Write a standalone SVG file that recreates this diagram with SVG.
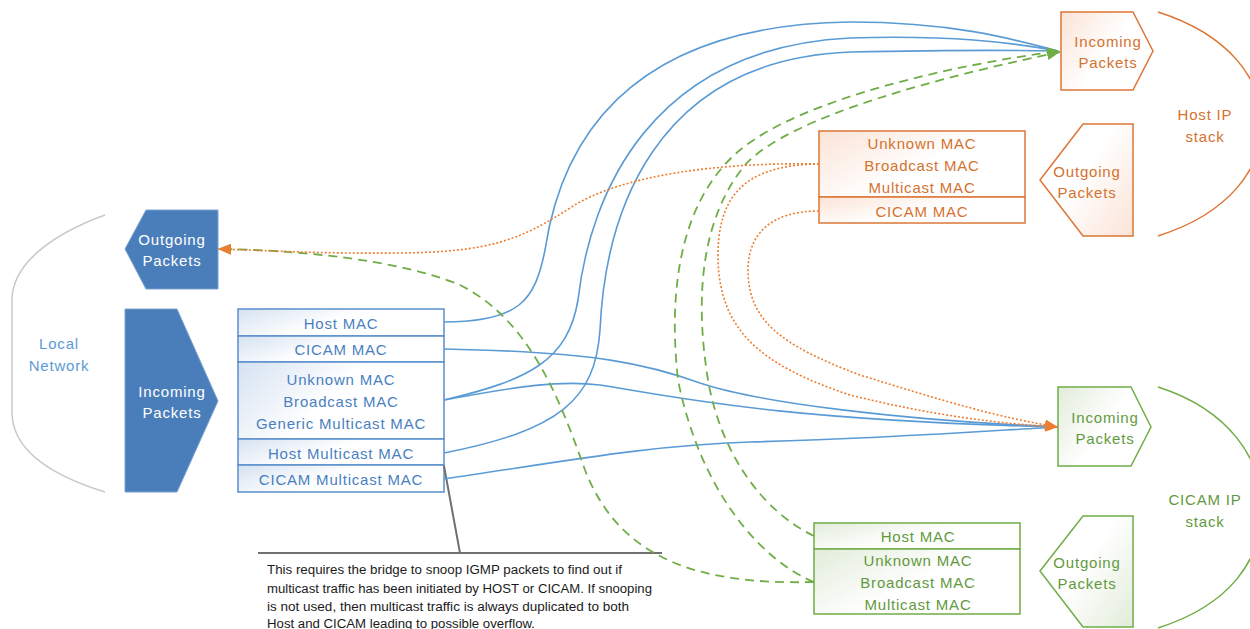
<svg xmlns="http://www.w3.org/2000/svg" width="1250" height="629" viewBox="0 0 1250 629">
<style>
.t{font-family:"Liberation Sans",Arial,sans-serif;font-size:15px;letter-spacing:0.8px;text-anchor:middle;dominant-baseline:central}
.tb{fill:#4a7fc1}
.tw{fill:#ffffff}
.to{fill:#d4722f}
.tg{fill:#62993e}
.tl{fill:#5b9bd5}
.note{font-family:"Liberation Sans",Arial,sans-serif;font-size:12.5px;fill:#1a1a1a}
.bshape{fill:#4a7ebb;stroke:#7aa2cf;stroke-width:1}
.btab{fill:url(#gb);stroke:#5a8fcb;stroke-width:1.5}
.otab{fill:url(#go);stroke:#dc7636;stroke-width:1.5}
.gtab{fill:url(#gg);stroke:#70ad47;stroke-width:1.5}
.cb{fill:none;stroke:#5b9bd5;stroke-width:1.6}
.cg{fill:none;stroke:#70ad47;stroke-width:1.8;stroke-dasharray:9 6}
.co{fill:none;stroke:#ed7d31;stroke-width:1.6;stroke-dasharray:2 2}
</style>
<defs>
<linearGradient id="gb" x1="0" y1="0" x2="1" y2="0.4"><stop offset="0" stop-color="#d5e2f1"/><stop offset="0.55" stop-color="#ffffff"/></linearGradient>
<linearGradient id="go" x1="0" y1="0" x2="1" y2="0.6"><stop offset="0" stop-color="#fbe3d6"/><stop offset="0.6" stop-color="#ffffff"/></linearGradient>
<linearGradient id="gor" x1="1" y1="1" x2="0" y2="0.2"><stop offset="0" stop-color="#fbe3d6"/><stop offset="0.6" stop-color="#ffffff"/></linearGradient>
<linearGradient id="gg" x1="0" y1="0" x2="1" y2="0.6"><stop offset="0" stop-color="#e2ecda"/><stop offset="0.6" stop-color="#ffffff"/></linearGradient>
<linearGradient id="ggr" x1="1" y1="1" x2="0" y2="0.2"><stop offset="0" stop-color="#e2ecda"/><stop offset="0.6" stop-color="#ffffff"/></linearGradient>
<marker id="arrO" viewBox="0 0 12 10" refX="12" refY="5" markerWidth="13" markerHeight="11" markerUnits="userSpaceOnUse" orient="auto"><path d="M0,0 L12,5 L0,10 z" fill="#ed7d31"/></marker>
<marker id="arrG" viewBox="0 0 12 10" refX="12" refY="5" markerWidth="13" markerHeight="11" markerUnits="userSpaceOnUse" orient="auto"><path d="M0,0 L12,5 L0,10 z" fill="#70ad47"/></marker>
</defs>

<g id="node-local-network">
<path d="M105,215 C50,235 12,265 12,300 L12,412 C12,450 50,475 105,492" fill="none" stroke="#c9c9c9" stroke-width="1.5"/>
<text class="t tl" x="59" y="343">Local</text>
<text class="t tl" x="59" y="365">Network</text>
</g>

<g id="node-blue-outgoing">
<polygon class="bshape" points="125,249 146,210 218,210 218,289 146,289"/>
<text class="t tw" x="172" y="239">Outgoing</text>
<text class="t tw" x="172" y="260">Packets</text>
</g>

<g id="node-blue-incoming">
<polygon class="bshape" points="125,309 177,309 218,401 177,492 125,492"/>
<text class="t tw" x="172" y="391">Incoming</text>
<text class="t tw" x="172" y="412">Packets</text>
</g>

<g id="node-blue-table">
<rect class="btab" x="238" y="309" width="206" height="27"/>
<rect class="btab" x="238" y="336" width="206" height="26"/>
<rect class="btab" x="238" y="362" width="206" height="77"/>
<rect class="btab" x="238" y="439" width="206" height="26"/>
<rect class="btab" x="238" y="465" width="206" height="27"/>
<text class="t tb" x="341" y="323">Host MAC</text>
<text class="t tb" x="341" y="349">CICAM MAC</text>
<text class="t tb" x="341" y="379">Unknown MAC</text>
<text class="t tb" x="341" y="401">Broadcast MAC</text>
<text class="t tb" x="341" y="423">Generic Multicast MAC</text>
<text class="t tb" x="341" y="453">Host Multicast MAC</text>
<text class="t tb" x="341" y="479">CICAM Multicast MAC</text>
</g>

<g id="node-host-incoming">
<polygon points="1061,12 1133,12 1153,51 1133,90 1061,90" fill="url(#go)" stroke="#dc7636" stroke-width="1.5"/>
<text class="t to" x="1108" y="41">Incoming</text>
<text class="t to" x="1108" y="62">Packets</text>
</g>

<g id="node-host-outgoing">
<polygon points="1040,180 1083,124 1133,124 1133,236 1083,236" fill="url(#gor)" stroke="#dc7636" stroke-width="1.5"/>
<text class="t to" x="1087" y="171">Outgoing</text>
<text class="t to" x="1087" y="192">Packets</text>
</g>

<g id="node-host-table">
<rect class="otab" x="819" y="131" width="206" height="66"/>
<rect class="otab" x="819" y="197" width="206" height="26"/>
<text class="t to" x="922" y="143">Unknown MAC</text>
<text class="t to" x="922" y="165">Broadcast MAC</text>
<text class="t to" x="922" y="187">Multicast MAC</text>
<text class="t to" x="922" y="211">CICAM MAC</text>
</g>

<g id="node-host-stack">
<path d="M1158,12 C1230,35 1262,80 1262,124 C1262,168 1230,213 1158,236" fill="none" stroke="#dc7636" stroke-width="1.5"/>
<text class="t to" x="1205" y="114">Host IP</text>
<text class="t to" x="1205" y="136">stack</text>
</g>

<g id="node-cicam-incoming">
<polygon points="1058,387 1131,387 1151,427 1131,466 1058,466" fill="url(#gg)" stroke="#70ad47" stroke-width="1.5"/>
<text class="t tg" x="1105" y="417">Incoming</text>
<text class="t tg" x="1105" y="438">Packets</text>
</g>

<g id="node-cicam-outgoing">
<polygon points="1040,571 1083,516 1133,516 1133,627 1083,627" fill="url(#ggr)" stroke="#70ad47" stroke-width="1.5"/>
<text class="t tg" x="1087" y="562">Outgoing</text>
<text class="t tg" x="1087" y="583">Packets</text>
</g>

<g id="node-cicam-table">
<rect class="gtab" x="814" y="523" width="206" height="26"/>
<rect class="gtab" x="814" y="549" width="206" height="65"/>
<text class="t tg" x="918" y="536">Host MAC</text>
<text class="t tg" x="918" y="560">Unknown MAC</text>
<text class="t tg" x="918" y="582">Broadcast MAC</text>
<text class="t tg" x="918" y="604">Multicast MAC</text>
</g>

<g id="node-cicam-stack">
<path d="M1158,387 C1230,410 1262,460 1262,508 C1262,560 1230,605 1158,628" fill="none" stroke="#70ad47" stroke-width="1.5"/>
<text class="t tg" x="1205" y="499">CICAM IP</text>
<text class="t tg" x="1205" y="521">stack</text>
</g>

<g id="node-note">
<path d="M444,466 L460,553 M258,553 L662,553" fill="none" stroke="#707070" stroke-width="2"/>
<text class="note" x="267" y="574" textLength="355" lengthAdjust="spacingAndGlyphs">This requires the bridge to snoop IGMP packets to find out if</text>
<text class="note" x="267" y="593" textLength="385" lengthAdjust="spacingAndGlyphs">multicast traffic has been initiated by HOST or CICAM. If snooping</text>
<text class="note" x="267" y="611" textLength="362" lengthAdjust="spacingAndGlyphs">is not used, then multicast traffic is always duplicated to both</text>
<text class="note" x="267" y="628" textLength="268" lengthAdjust="spacingAndGlyphs">Host and CICAM leading to possible overflow.</text>
</g>

<g id="connectors">
<path class="cb" d="M444,322 C520,322 535,300 545,250 C560,150 620,25 850,22 C950,22 1010,38 1058,51"/>
<path class="cb" d="M444,400 C530,380 568,360 578,300 C590,195 650,48 850,38 C950,35 1010,42 1058,51"/>
<path class="cb" d="M444,453 C560,430 595,400 600,330 C605,220 650,60 850,52 C950,50 1010,50 1058,51"/>
<path class="cb" d="M444,349 C600,352 650,365 700,383 C760,403 900,420 1058,427"/>
<path class="cb" d="M444,400 C520,386 560,380 600,385 C680,398 780,420 1058,427"/>
<path class="cb" d="M444,479 C560,462 650,445 750,442 C900,438 1000,430 1058,427"/>
<path class="cg" marker-end="url(#arrG)" d="M814,582 C760,560 700,490 678,380 C668,290 680,200 740,150 C800,100 950,65 1060,51"/>
<path class="cg" marker-end="url(#arrG)" d="M814,536 C760,510 720,450 708,380 C695,300 700,220 745,165 C790,115 950,75 1060,52"/>
<path class="cg" marker-end="url(#arrG)" d="M814,582 C700,585 620,560 585,470 C560,400 530,320 460,285 C400,260 300,250 218,249"/>
<path class="co" marker-end="url(#arrO)" d="M819,164 C720,162 620,175 570,208 C520,240 490,252 400,253 C320,254 260,250 218,249"/>
<path class="co" marker-end="url(#arrO)" d="M819,164 C740,165 717,200 718,260 C720,330 760,365 850,395 C930,415 1000,424 1058,427"/>
<path class="co" marker-end="url(#arrO)" d="M819,211 C770,211 748,235 748,270 C748,320 780,345 860,375 C940,400 1000,418 1058,427"/>
</g>
</svg>
